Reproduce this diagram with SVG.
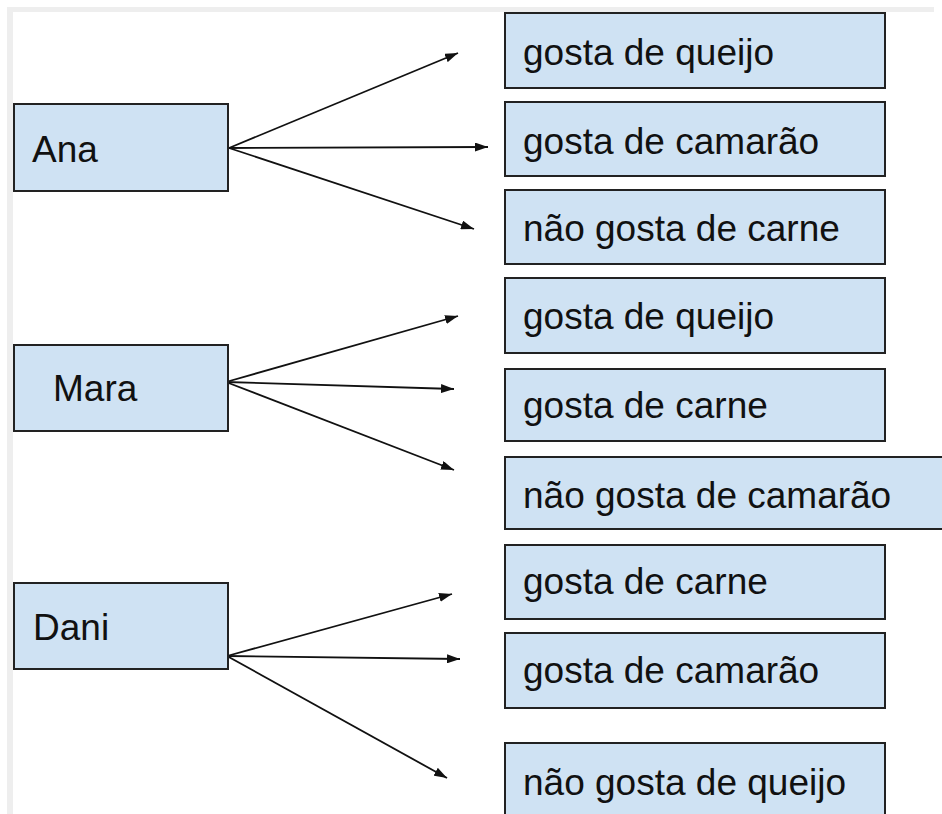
<svg xmlns="http://www.w3.org/2000/svg" width="942" height="814" viewBox="0 0 942 814">
<style>
.box{fill:#cfe2f3;stroke:#222;stroke-width:2}
.t{font-family:"Liberation Sans",Arial,sans-serif;font-size:37px;fill:#111}
.c{stroke:#111;stroke-width:1.8;fill:none;marker-end:url(#ah)}
</style>
<defs>
<marker id="ah" viewBox="0 0 13 9" refX="13" refY="4.5" markerWidth="13" markerHeight="9" markerUnits="userSpaceOnUse" orient="auto">
<path d="M0,0 L13,4.5 L0,9 Z" fill="#111"/>
</marker>
</defs>
<rect x="0" y="0" width="942" height="814" fill="#fff"/>
<rect x="7" y="7" width="927" height="5" fill="#eeeeee"/>
<rect x="7" y="7" width="6" height="807" fill="#eeeeee"/>
<g id="connectors">
<line class="c" x1="229" y1="148" x2="458" y2="53"/>
<line class="c" x1="229" y1="148" x2="488" y2="147"/>
<line class="c" x1="229" y1="148" x2="474" y2="229"/>
<line class="c" x1="226" y1="382" x2="458" y2="316"/>
<line class="c" x1="226" y1="382" x2="454" y2="389"/>
<line class="c" x1="226" y1="382" x2="454" y2="470"/>
<line class="c" x1="227" y1="656" x2="452" y2="594"/>
<line class="c" x1="227" y1="656" x2="460" y2="659"/>
<line class="c" x1="227" y1="656" x2="447" y2="778"/>
</g>
<g id="ana"><rect class="box" x="14" y="104" width="214" height="87"/><text class="t" x="32" y="162">Ana</text></g>
<g id="mara"><rect class="box" x="14" y="345" width="214" height="86"/><text class="t" x="53" y="401">Mara</text></g>
<g id="dani"><rect class="box" x="14" y="583" width="214" height="86"/><text class="t" x="33" y="640">Dani</text></g>
<g id="a1"><rect class="box" x="505" y="13" width="380" height="75"/><text class="t" x="523" y="65">gosta de queijo</text></g>
<g id="a2"><rect class="box" x="505" y="102" width="380" height="74"/><text class="t" x="523" y="154">gosta de camarão</text></g>
<g id="a3"><rect class="box" x="505" y="190" width="380" height="74"/><text class="t" x="523" y="241">não gosta de carne</text></g>
<g id="m1"><rect class="box" x="505" y="278" width="380" height="75"/><text class="t" x="523" y="329">gosta de queijo</text></g>
<g id="m2"><rect class="box" x="505" y="369" width="380" height="72"/><text class="t" x="523" y="418">gosta de carne</text></g>
<g id="m3"><rect class="box" x="505" y="457" width="445" height="72"/><text class="t" x="523" y="508">não gosta de camarão</text></g>
<g id="d1"><rect class="box" x="505" y="545" width="380" height="74"/><text class="t" x="523" y="594">gosta de carne</text></g>
<g id="d2"><rect class="box" x="505" y="633" width="380" height="75"/><text class="t" x="523" y="683">gosta de camarão</text></g>
<g id="d3"><rect class="box" x="505" y="743" width="380" height="80"/><text class="t" x="523" y="795">não gosta de queijo</text></g>
</svg>
